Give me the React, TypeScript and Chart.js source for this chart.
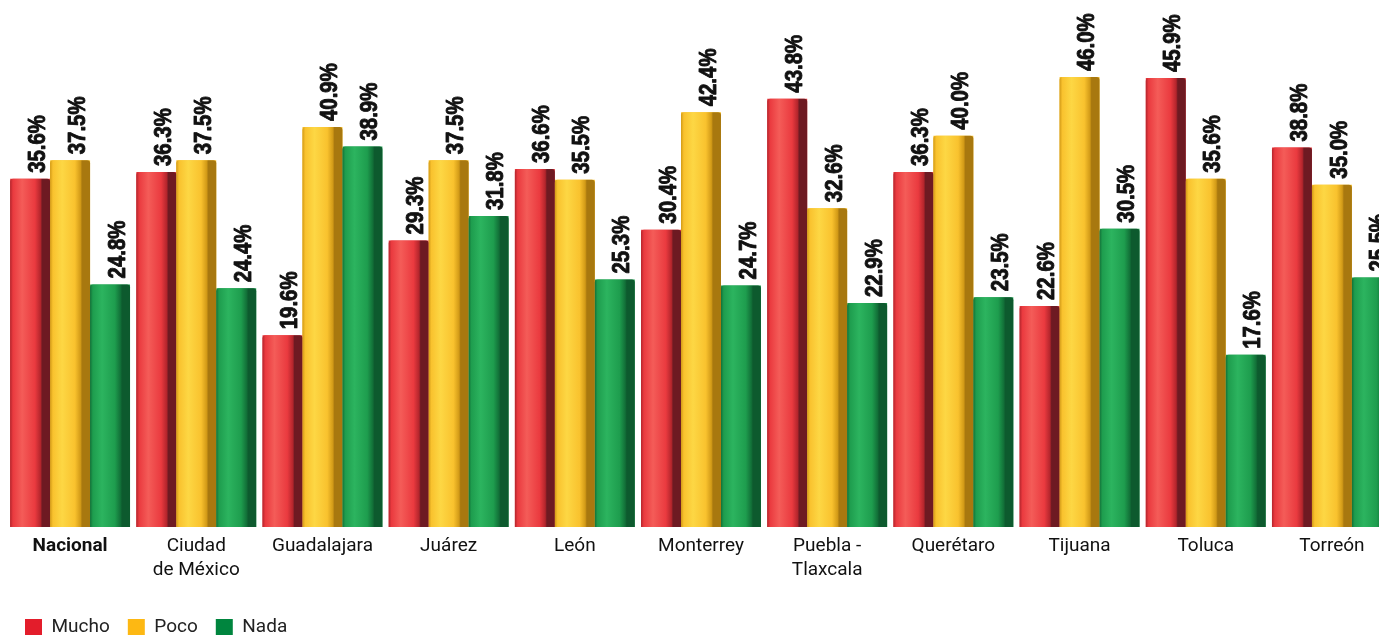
import React, { useEffect, useRef } from "react";
import { Chart, registerables } from "chart.js";

Chart.register(...registerables);

const categories: string[][] = [
  ["Nacional"],
  ["Ciudad", "de México"],
  ["Guadalajara"],
  ["Juárez"],
  ["León"],
  ["Monterrey"],
  ["Puebla -", "Tlaxcala"],
  ["Querétaro"],
  ["Tijuana"],
  ["Toluca"],
  ["Torreón"],
];

const seriesNames = ["Mucho", "Poco", "Nada"];
const mucho = [35.6, 36.3, 19.6, 29.3, 36.6, 30.4, 43.8, 36.3, 22.6, 45.9, 38.8];
const poco = [37.5, 37.5, 40.9, 37.5, 35.5, 42.4, 32.6, 40.0, 46.0, 35.6, 35.0];
const nada = [24.8, 24.4, 38.9, 31.8, 25.3, 24.7, 22.9, 23.5, 30.5, 17.6, 25.5];

const baseColors = ["#EA3A3F", "#F9C22E", "#1E9D4E"];
const lightColors = ["#F45C58", "#FDD744", "#2CB45F"];
const darkColors = ["#B3252C", "#D29A17", "#127038"];
const sideColors = ["#6E1A22", "#A8780F", "#0D5A2E"];
const legendColors = ["#E31D2B", "#FDB813", "#00853E"];

const shadePlugin = {
  id: "shade3d",
  afterDatasetsDraw(chart: any) {
    const ctx = chart.ctx;
    chart.data.datasets.forEach((_ds: any, di: number) => {
      const meta = chart.getDatasetMeta(di);
      meta.data.forEach((bar: any) => {
        const { x, y, base, width } = bar.getProps(["x", "y", "base", "width"], true);
        const left = x - width / 2;
        const g = ctx.createLinearGradient(left, 0, left + width, 0);
        g.addColorStop(0, darkColors[di]);
        g.addColorStop(0.07, baseColors[di]);
        g.addColorStop(0.3, lightColors[di]);
        g.addColorStop(0.62, baseColors[di]);
        g.addColorStop(0.76, darkColors[di]);
        g.addColorStop(0.8, sideColors[di]);
        g.addColorStop(1, sideColors[di]);
        ctx.save();
        ctx.fillStyle = g;
        ctx.beginPath();
        const r = 3;
        ctx.moveTo(left, base);
        ctx.lineTo(left, y + r);
        ctx.quadraticCurveTo(left, y, left + r, y);
        ctx.lineTo(left + width - r, y);
        ctx.quadraticCurveTo(left + width, y, left + width, y + r);
        ctx.lineTo(left + width, base);
        ctx.closePath();
        ctx.fill();
        ctx.restore();
      });
    });
  },
};

const valueLabelPlugin = {
  id: "valueLabels",
  afterDatasetsDraw(chart: any) {
    const ctx = chart.ctx;
    ctx.save();
    ctx.fillStyle = "#111111";
    ctx.strokeStyle = "#111111";
    ctx.lineWidth = 0.9;
    ctx.lineJoin = "round";
    ctx.font = "bold 24px 'Liberation Sans', Arial, sans-serif";
    ctx.textAlign = "left";
    ctx.textBaseline = "middle";
    chart.data.datasets.forEach((ds: any, di: number) => {
      const meta = chart.getDatasetMeta(di);
      meta.data.forEach((bar: any, i: number) => {
        const { x, y } = bar.getProps(["x", "y"], true);
        const txt = ds.data[i].toFixed(1) + "%";
        ctx.save();
        ctx.translate(x + 8, y - 6);
        ctx.rotate(-Math.PI / 2);
        ctx.scale(0.85, 1);
        ctx.fillText(txt, 0, 0);
        ctx.strokeText(txt, 0, 0);
        ctx.restore();
      });
    });
    ctx.restore();
  },
};

export default function App() {
  const canvasRef = useRef<HTMLCanvasElement | null>(null);

  useEffect(() => {
    if (!canvasRef.current) return;
    const chart = new Chart(canvasRef.current, {
      type: "bar",
      data: {
        labels: categories,
        datasets: [mucho, poco, nada].map((d, i) => ({
          label: seriesNames[i],
          data: d,
          backgroundColor: baseColors[i],
          borderWidth: 0,
          categoryPercentage: 0.95,
          barPercentage: 1.0,
        })),
      },
      options: {
        responsive: false,
        animation: false,
        layout: { padding: { left: 7, right: 0, top: 38, bottom: 0 } },
        plugins: {
          tooltip: { enabled: false },
          legend: {
            position: "bottom",
            align: "start",
            labels: {
              boxWidth: 17,
              boxHeight: 17,
              padding: 18,
              color: "#222222",
              font: { family: "Roboto, 'Liberation Sans', sans-serif", size: 19 },
              generateLabels: (c: any) =>
                c.data.datasets.map((ds: any, i: number) => ({
                  text: ds.label,
                  fillStyle: legendColors[i],
                  strokeStyle: "transparent",
                  lineWidth: 0,
                  datasetIndex: i,
                  fontColor: "#222222",
                })),
            },
          },
        },
        scales: {
          x: {
            grid: { display: false, drawTicks: false },
            border: { display: false },
            ticks: {
              padding: 8,
              color: "#111111",
              maxRotation: 0,
              autoSkip: false,
              font: (c: any) => ({
                family: "Roboto, 'Liberation Sans', sans-serif",
                size: 19,
                lineHeight: 1.22,
                weight: c.index === 0 ? "bold" : "normal",
              }),
            },
            afterFit: (s: any) => {
              s.height = 73;
            },
          },
          y: {
            display: false,
            min: 0,
            max: 50,
          },
        },
      },
      plugins: [shadePlugin, valueLabelPlugin],
    });
    return () => chart.destroy();
  }, []);

  return (
    <div
      style={{
        position: "fixed",
        left: 0,
        top: 0,
        width: 1379,
        height: 635,
        overflow: "hidden",
        background: "#ffffff",
      }}
    >
      <canvas ref={canvasRef} width={1395} height={647} style={{ display: "block" }} />
    </div>
  );
}
